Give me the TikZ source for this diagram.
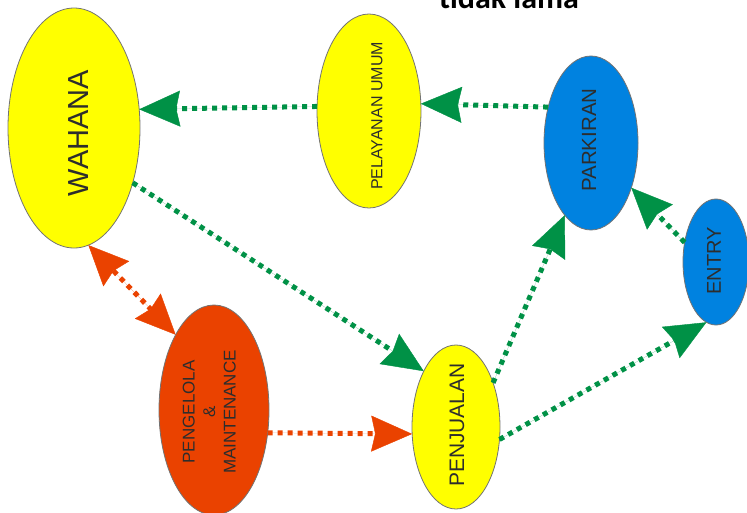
\documentclass[tikz,border=0pt]{standalone}
\usepackage{fontspec}
\setmainfont{Liberation Sans}
\newfontfamily\titlefont{Carlito}
\usetikzlibrary{shapes.geometric,arrows.meta}
\definecolor{ylw}{RGB}{255,255,0}
\definecolor{blu}{RGB}{0,130,224}
\definecolor{org}{RGB}{234,66,0}
\definecolor{grn}{RGB}{0,145,70}
\definecolor{txt}{RGB}{45,45,45}
\begin{document}
\begin{tikzpicture}[x=1pt,y=-1pt,
  oval/.style={ellipse, draw=black!55, line width=0.8pt, inner sep=0pt, outer sep=0pt},
  lbl/.style={inner sep=0pt, text=txt},
  garrow/.style={draw=grn, fill=grn, line width=5pt, dash pattern=on 5pt off 5pt, -{Stealth[length=41pt,width=36pt,inset=4pt,line width=0.4pt]}},
  oarrow/.style={draw=org, fill=org, line width=5pt, dash pattern=on 5pt off 5pt, -{Stealth[length=41pt,width=36pt,inset=4pt,line width=0.4pt]}},
  oarrowb/.style={draw=org, fill=org, line width=5pt, dash pattern=on 5pt off 5pt, {Stealth[length=40pt,width=36pt,inset=4pt,line width=0.4pt]}-{Stealth[length=40pt,width=36pt,inset=4pt,line width=0.4pt]}}
]
\useasboundingbox (0,0) rectangle (747,512);
\clip (0,0) rectangle (747,512);

% ellipses
\node[oval, fill=ylw, minimum width=132pt, minimum height=240pt] (wahana) at (74,128) {};
\node[oval, fill=ylw, minimum width=104pt, minimum height=194pt] (pelayanan) at (369,111) {};
\node[oval, fill=blu, minimum width=94pt, minimum height=174pt] (parkiran) at (591,143) {};
\node[oval, fill=blu, minimum width=66pt, minimum height=126pt] (entry) at (716,262) {};
\node[oval, fill=org, minimum width=110pt, minimum height=210pt] (pengelola) at (214,410) {};
\node[oval, fill=ylw, minimum width=88pt, minimum height=164pt] (penjualan) at (456,427) {};

% labels
\node[lbl] (lwahana) at (79,133) {\rotatebox{90}{\fontsize{29}{29}\selectfont WAHANA}};
\node[lbl] (lpelayanan) at (377,116) {\rotatebox{90}{\fontsize{16}{16}\selectfont PELAYANAN UMUM}};
\node[lbl] (lparkiran) at (589,140) {\rotatebox{90}{\fontsize{20.5}{20.5}\selectfont PARKIRAN}};
\node[lbl] (lentry) at (714,261) {\rotatebox{90}{\fontsize{20}{20}\selectfont ENTRY}};
\node[lbl] (lpenjualan) at (457,425) {\rotatebox{90}{\fontsize{21}{21}\selectfont PENJUALAN}};
\node[lbl] (lpengelola) at (211,412) {\rotatebox{90}{\fontsize{17}{20.5}\selectfont\begin{tabular}{@{}c@{}}PENGELOLA\\\&\\MAINTENANCE\end{tabular}}};

% title
\node[inner sep=0pt, anchor=base] (title) at (509,8) {\titlefont\bfseries\fontsize{32}{32}\selectfont tidak lama};

% connectors
\draw[garrow] (parkiran.140.9) -- (pelayanan.8.6);
\draw[garrow] (pelayanan.175.6) -- (wahana.16.9);
\draw[garrow] (wahana.-43) -- (penjualan.120.8);
\draw[oarrowb] (wahana.-83.3) -- (pengelola.117.1);
\draw[oarrow] (pengelola.-23.6) -- (penjualan.-171.2);
\draw[garrow] (penjualan.50.7) -- (parkiran.-110.6);
\draw[garrow] (penjualan.-16.5) -- (entry.-99.8);
\draw[garrow] (entry.148) -- (parkiran.-48.9);
\end{tikzpicture}
\end{document}
